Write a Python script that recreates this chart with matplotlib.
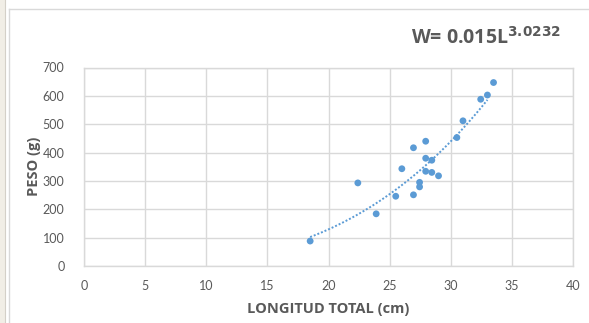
import numpy as np
import matplotlib
matplotlib.use("Agg")
import matplotlib.pyplot as plt
from matplotlib.patches import Rectangle
from matplotlib.lines import Line2D

# Data
longitud = [18.5, 22.4, 23.9, 25.5, 26.0, 26.95, 26.95, 27.45, 27.45, 27.95, 27.95, 27.95,
            28.45, 28.45, 29.0, 30.5, 31.0, 32.45, 33.0, 33.5]
peso = [88, 293, 184, 246, 343, 417, 251, 295, 279, 440, 380, 334,
        373, 330, 318, 453, 512, 588, 603, 647]

x_ticks = [0, 5, 10, 15, 20, 25, 30, 35, 40]
y_ticks = [0, 100, 200, 300, 400, 500, 600, 700]
title_text = r"W= 0.015L$^{\mathbf{3.0232}}$"

W, H = 589, 323
fig = plt.figure(figsize=(W / 100, H / 100), dpi=100)
fig.patch.set_facecolor("white")

# outer decorations (sheet edge and chart border)
fig.add_artist(Rectangle((0, 0), 5 / W, 1, transform=fig.transFigure,
                         facecolor="#F1EEE6", edgecolor="none"))
fig.add_artist(Line2D([4.5 / W, 4.5 / W], [0, 1], transform=fig.transFigure,
                      color="#D4D0C8", lw=0.8))
fig.add_artist(Line2D([9 / W, 9 / W], [0, 1 - 9 / H], transform=fig.transFigure,
                      color="#D9D9D9", lw=1))
fig.add_artist(Line2D([9 / W, 1], [1 - 9 / H, 1 - 9 / H], transform=fig.transFigure,
                      color="#D9D9D9", lw=1))

left, right = 84 / W, 573 / W
bottom, top = 57 / H, (H - 67.5) / H
ax = fig.add_axes([left, bottom, right - left, top - bottom])

ax.set_xlim(0, 40)
ax.set_ylim(0, 700)
ax.set_xticks(x_ticks)
ax.set_yticks(y_ticks)
ax.grid(True, color="#D9D9D9", lw=1)
ax.set_axisbelow(True)
for s in ax.spines.values():
    s.set_color("#D9D9D9")
    s.set_linewidth(1)
ax.tick_params(axis="x", length=0, labelsize=9, labelcolor="#595959", pad=10)
ax.tick_params(axis="y", length=0, labelsize=9, labelcolor="#595959", pad=14)
for lab in ax.get_xticklabels() + ax.get_yticklabels():
    lab.set_fontfamily("Lato")

# power trendline fitted from the data
lx = np.log(np.array(longitud))
ly = np.log(np.array(peso))
b, a = np.polyfit(lx, ly, 1)
xs = np.linspace(min(longitud), 33.0, 100)
ax.plot(xs, np.exp(a) * xs ** b, linestyle=(0, (1, 1)), color="#5B9BD5", lw=1.4)

ax.scatter(longitud, peso, s=24, color="#5B9BD5", zorder=3, edgecolors="none")

ax.set_xlabel("LONGITUD TOTAL (cm)", fontsize=10.5, fontweight="bold",
              color="#595959", family="Open Sans", labelpad=7)
ax.set_ylabel("PESO (g)", fontsize=10.5, fontweight="bold",
              color="#595959", family="Open Sans", labelpad=1)

fig.text(561 / W, 1 - 38 / H, title_text, ha="right", va="center",
         fontsize=14, fontweight="bold", color="#595959", family="Open Sans")

fig.savefig("out.png", dpi=100)
